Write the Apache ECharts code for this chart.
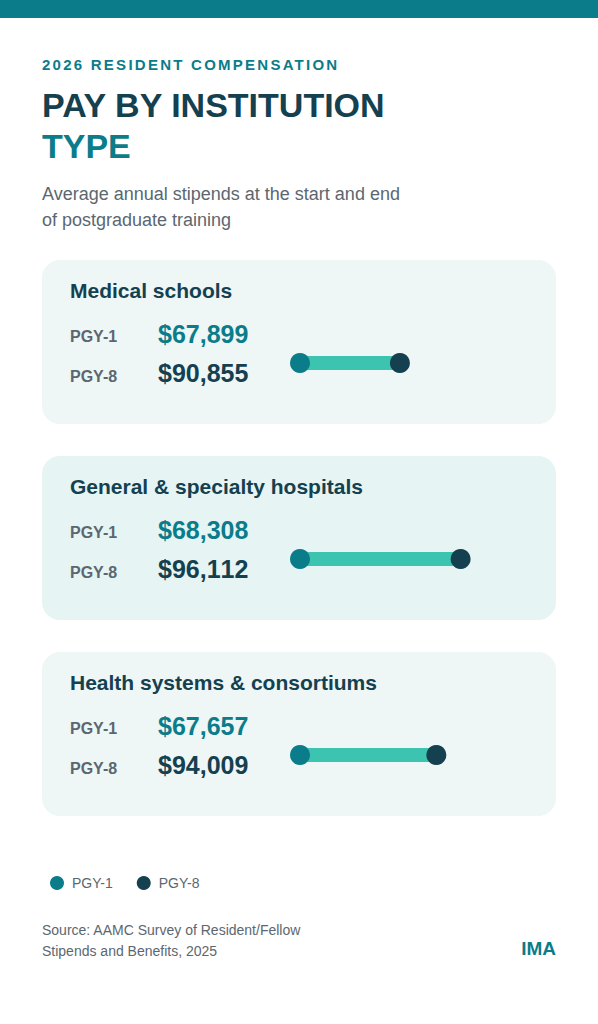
<!DOCTYPE html>
<html>
<head>
<meta charset="utf-8">
<title>Pay by institution type</title>
<script src="https://cdn.jsdelivr.net/npm/echarts@6/dist/echarts.min.js"></script>
<style>
html, body { margin: 0; padding: 0; background: #fff; }
#main { width: 598px; height: 1024px; }
</style>
</head>
<body>
<div id="main"></div>
<script>
var categories = ['Medical schools', 'General & specialty hospitals', 'Health systems & consortiums'];
var pgy1 = [67899, 68308, 67657];
var pgy8 = [90855, 96112, 94009];

var TEAL = '#0a7c8a';
var NAVY = '#14404f';
var MINT = '#3cc4b0';
var GREY = '#5b6770';
var FONT = '"Liberation Sans", Arial, sans-serif';

// the track starts at a truncated floor, PGY-1 values are below it and pin to the left end
var xMin = 82200;
var xMax = 100000;

var money = function (v) {
    return '$' + v.toLocaleString('en-US');
};
// y is the text baseline, zrender wants the top of the line
var label = function (x, y, text, weight, size, fill, align) {
    return {
        type: 'text',
        z: 5,
        style: {
            x: x,
            y: y - Math.round(size * 0.87),
            text: text,
            font: weight + ' ' + size + 'px ' + FONT,
            fill: fill,
            textAlign: align || 'left',
            textVerticalAlign: 'top'
        }
    };
};

var graphics = [
    { type: 'rect', z: 0, shape: { x: 0, y: 0, width: 598, height: 18 }, style: { fill: TEAL } },
    label(42, 70, '2026 RESIDENT COMPENSATION', 'bold', 15, TEAL),
    label(42, 118, 'PAY BY INSTITUTION', 'bold', 34, NAVY),
    label(42, 159, 'TYPE', 'bold', 34, TEAL),
    label(42, 201, 'Average annual stipends at the start and end', 'normal', 18, GREY),
    label(42, 227, 'of postgraduate training', 'normal', 18, GREY),
    label(42, 935, 'Source: AAMC Survey of Resident/Fellow', 'normal', 14, GREY),
    label(42, 956, 'Stipends and Benefits, 2025', 'normal', 14, GREY),
    label(556, 956, 'IMA', 'bold', 19, TEAL, 'right')
];
categories.forEach(function (name, i) {
    var top = 260 + i * 196;
    graphics.push({
        type: 'rect',
        z: 0,
        shape: { x: 42, y: top, width: 514, height: 164, r: 18 },
        style: { fill: i === 1 ? '#e6f4f3' : '#eef6f6' }
    });
    graphics.push(label(70, top + 38, name, 'bold', 21, NAVY));
    graphics.push(label(70, top + 82, 'PGY-1', 'bold', 16, GREY));
    graphics.push(label(158, top + 83, money(pgy1[i]), 'bold', 25, TEAL));
    graphics.push(label(70, top + 122, 'PGY-8', 'bold', 16, GREY));
    graphics.push(label(158, top + 122, money(pgy8[i]), 'bold', 25, NAVY));
});

var chart = echarts.init(document.getElementById('main'), null, { renderer: 'svg' });
chart.setOption({
    animation: false,
    backgroundColor: '#fff',
    grid: { left: 300, top: 265, width: 205.5, height: 588 },
    xAxis: { type: 'value', min: xMin, max: xMax, show: false },
    yAxis: { type: 'category', data: categories, inverse: true, show: false },
    legend: {
        data: ['PGY-1', 'PGY-8'],
        left: 50,
        top: 876,
        padding: 0,
        icon: 'circle',
        itemWidth: 14,
        itemHeight: 14,
        itemGap: 24,
        selectedMode: false,
        textStyle: { color: GREY, fontSize: 14, fontFamily: FONT, padding: [0, 0, 0, 3] }
    },
    graphic: graphics,
    series: [
        {
            name: 'Range',
            type: 'bar',
            data: pgy8,
            barWidth: 14,
            itemStyle: { color: MINT },
            z: 2
        },
        {
            name: 'PGY-1',
            type: 'scatter',
            data: pgy1.map(function (v, i) { return [Math.max(v, xMin), categories[i]]; }),
            symbolSize: 20,
            itemStyle: { color: TEAL, opacity: 1 },
            clip: false,
            z: 3
        },
        {
            name: 'PGY-8',
            type: 'scatter',
            data: pgy8.map(function (v, i) { return [v, categories[i]]; }),
            symbolSize: 20,
            itemStyle: { color: NAVY, opacity: 1 },
            clip: false,
            z: 3
        }
    ]
});

// echarts has no letter spacing or kerning option, set them on the svg text
document.querySelectorAll('#main text').forEach(function (t) {
    if (t.textContent === '2026 RESIDENT COMPENSATION') {
        t.style.letterSpacing = '2.25px';
    }
    if (t.textContent.charAt(0) === '$') {
        t.style.fontKerning = 'none';
    }
});
</script>
</body>
</html>
